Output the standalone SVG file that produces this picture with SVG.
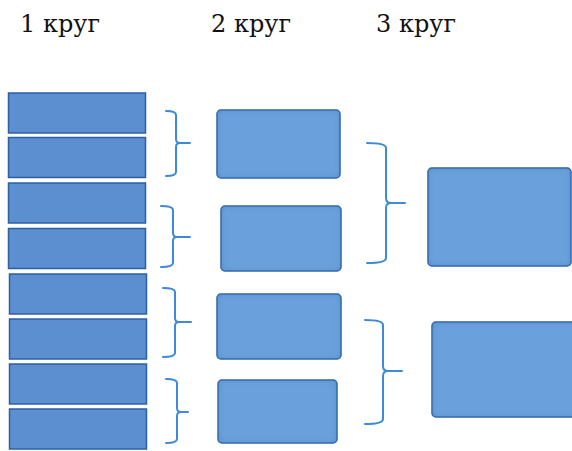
<svg xmlns="http://www.w3.org/2000/svg" width="572" height="451" viewBox="0 0 572 451">
<style>
.t{font-family:'DejaVu Serif',serif;font-size:24px;fill:#111}
.r1{fill:#5b8fd0;stroke:#2c5fa6;stroke-width:1.5}
.r2{fill:#6aa1dc;stroke:#3a6fb3;stroke-width:1.5;filter:url(#inner)}
.br{fill:none;stroke:#3d8ad8;stroke-width:2;stroke-linecap:round;stroke-linejoin:round}
</style>
<defs>
<filter id="inner" x="-5%" y="-5%" width="110%" height="110%">
<feFlood flood-color="#34619e" flood-opacity="0.6"/>
<feComposite in2="SourceAlpha" operator="out"/>
<feGaussianBlur stdDeviation="3"/>
<feComposite in2="SourceAlpha" operator="in" result="sh"/>
<feMerge><feMergeNode in="SourceGraphic"/><feMergeNode in="sh"/></feMerge>
</filter>
</defs>
<rect width="572" height="451" fill="#fff"/>
<g id="titles">
<text class="t" x="20" y="32">1 круг</text>
<text class="t" x="211" y="32">2 круг</text>
<text class="t" x="376" y="32">3 круг</text>
</g>
<g id="round1">
<rect id="n1" class="r1" x="8.5" y="93" width="137" height="40"/>
<rect id="n2" class="r1" x="8.5" y="137.5" width="137" height="40"/>
<rect id="n3" class="r1" x="8.5" y="183" width="137" height="40"/>
<rect id="n4" class="r1" x="8.5" y="228.5" width="137" height="40"/>
<rect id="n5" class="r1" x="9.5" y="274" width="137" height="40"/>
<rect id="n6" class="r1" x="9.5" y="319" width="137" height="40"/>
<rect id="n7" class="r1" x="9.5" y="364" width="137" height="40"/>
<rect id="n8" class="r1" x="9.5" y="409" width="137" height="40"/>
</g>
<g id="round2">
<rect id="m1" class="r2" x="217" y="110" width="123" height="68" rx="4"/>
<rect id="m2" class="r2" x="221" y="206" width="120" height="65" rx="4"/>
<rect id="m3" class="r2" x="217" y="294" width="124" height="65" rx="4"/>
<rect id="m4" class="r2" x="218" y="380" width="119" height="63" rx="4"/>
</g>
<g id="round3">
<rect id="k1" class="r2" x="428" y="168" width="143" height="98" rx="4"/>
<rect id="k2" class="r2" x="432" y="322" width="150" height="95" rx="4"/>
</g>
<g id="connectors">
<path class="br" d="M166,111 Q176,111 176,115 L176,139 Q176,143 180,143 Q176,143 176,147 L176,172 Q176,176 166,176 M180,143 L190,143"/>
<path class="br" d="M161,206 Q173,206 173,210 L173,233 Q173,237 177,237 Q173,237 173,241 L173,263 Q173,267 161,267 M177,237 L190,237"/>
<path class="br" d="M163,288 Q175,288 175,292 L175,318 Q175,322 179,322 Q175,322 175,326 L175,353 Q175,357 163,357 M179,322 L191,322"/>
<path class="br" d="M166,379 Q177,379 177,383 L177,408 Q177,412 181,412 Q177,412 177,416 L177,439 Q177,443 166,443 M181,412 L188,412"/>
<path class="br" d="M367,143 Q386,143 386,148 L386,198 Q386,203 391,203 Q386,203 386,208 L386,258 Q386,263 367,263 M391,203 L405,203"/>
<path class="br" d="M365,320 Q383,320 383,325 L383,366 Q383,371 388,371 Q383,371 383,376 L383,419 Q383,424 365,424 M388,371 L402,371"/>
</g>
</svg>
